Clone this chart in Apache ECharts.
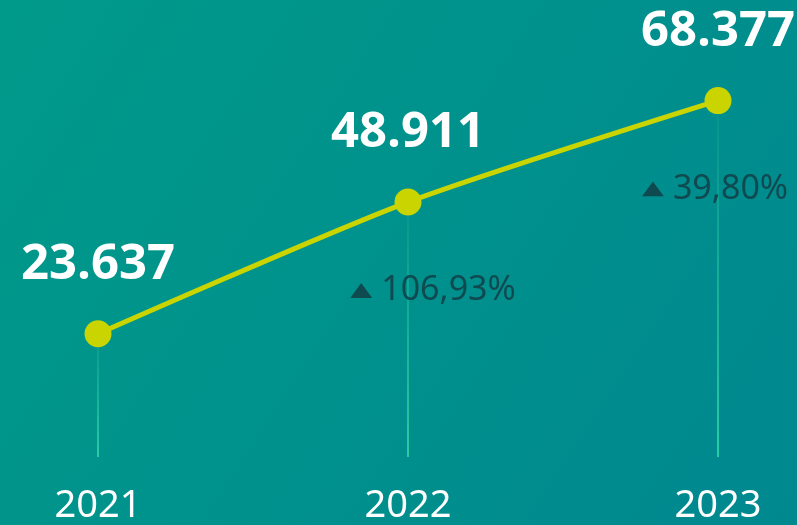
<!DOCTYPE html>
<html>
<head>
<meta charset="utf-8">
<script src="https://cdn.jsdelivr.net/npm/echarts@6/dist/echarts.min.js"></script>
<style>
  html, body { margin: 0; padding: 0; }
  #chart { width: 797px; height: 525px; }
</style>
</head>
<body>
<div id="chart"></div>
<script>
var years = ['2021', '2022', '2023'];
var totals = [23637, 48911, 68377];
var growth = [null, '106,93%', '39,80%'];

// label nudges for the growth text (px)
var growthOffset = [[25, 0], [25, 0], [-3, 0]];

function fmt(v) {
  return String(v).replace(/\B(?=(\d{3})+(?!\d))/g, '.');
}

// flat "up" triangle used in front of the growth figures
var triangle = 'data:image/svg+xml;utf8,' + encodeURIComponent(
  '<svg xmlns="http://www.w3.org/2000/svg" width="22" height="11" viewBox="0 0 22 11">' +
  '<polygon points="0,11 11,0 22,11" fill="#0f4a50"/></svg>');

var growthData = totals.map(function (v, i) {
  if (!growth[i]) return { value: v, label: { show: false } };
  return { value: v, label: { offset: growthOffset[i] } };
});

var myChart = echarts.init(document.getElementById('chart'));
myChart.setOption({
  backgroundColor: new echarts.graphic.LinearGradient(0, 0, 1, 1, [
    { offset: 0, color: '#009a8a' },
    { offset: 1, color: '#00888f' }
  ]),
  grid: { left: 98, right: 79, top: 40, bottom: 67 },
  xAxis: {
    type: 'category',
    data: years,
    boundaryGap: false,
    axisLine: { show: false },
    axisTick: { show: false },
    axisLabel: {
      color: '#ffffff',
      fontSize: 38,
      fontFamily: 'Noto Sans',
      margin: 30
    }
  },
  yAxis: {
    type: 'value',
    min: 0,
    max: 80000,
    show: false,
    splitLine: { show: false }
  },
  series: [
    {
      // drop lines
      type: 'bar',
      data: totals,
      barWidth: 2,
      silent: true,
      itemStyle: {
        color: new echarts.graphic.LinearGradient(0, 0, 0, 1, [
          { offset: 0, color: 'rgba(40,200,160,0.1)' },
          { offset: 1, color: 'rgba(40,205,165,1)' }
        ])
      },
      z: 1
    },
    {
      type: 'line',
      data: totals,
      smooth: 0.25,
      symbol: 'circle',
      symbolSize: 27,
      lineStyle: { color: '#c9d400', width: 5 },
      itemStyle: { color: '#c9d400' },
      label: {
        show: true,
        position: 'top',
        distance: 31,
        color: '#ffffff',
        fontSize: 49,
        fontWeight: 'bold',
        fontFamily: 'Open Sans',
        formatter: function (p) { return fmt(p.value); }
      },
      z: 3
    },
    {
      type: 'line',
      data: growthData,
      symbol: 'circle',
      symbolSize: 1,
      itemStyle: { color: 'rgba(0,0,0,0)' },
      lineStyle: { opacity: 0 },
      silent: true,
      label: {
        show: true,
        position: 'bottom',
        distance: 71,
        formatter: function (p) {
          return '{t|}{v|' + growth[p.dataIndex] + '}';
        },
        rich: {
          t: {
            width: 22, height: 11,
            backgroundColor: { image: triangle },
            padding: [0, 0, 4, 0]
          },
          v: { color: '#0f4a50', fontSize: 34, fontFamily: 'Noto Sans', padding: [0, 0, 0, 9] }
        }
      },
      z: 2
    }
  ]
});
</script>
</body>
</html>
